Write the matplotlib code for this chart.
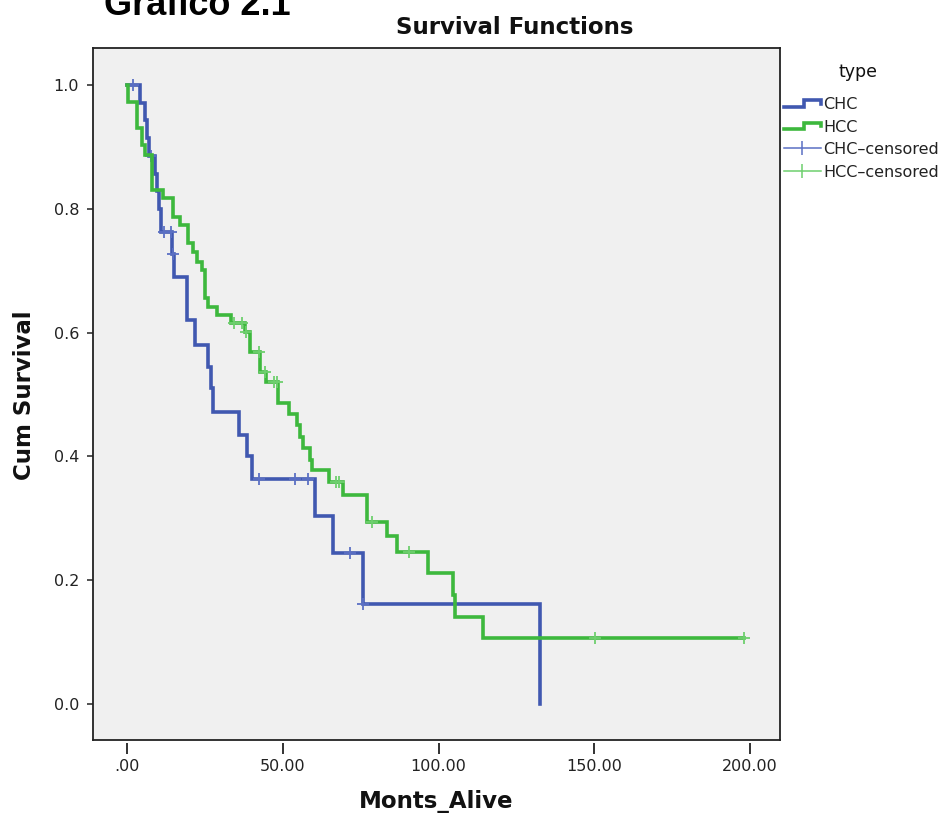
import numpy as np
import matplotlib
matplotlib.use('Agg')
import matplotlib.pyplot as plt
from matplotlib.lines import Line2D
from matplotlib.legend_handler import HandlerBase

# ---- data ----
chc_times = [0, 4.2, 5.8, 6.5, 7.0, 9.0, 9.7, 10.3, 10.8, 14.5, 15.2, 19.2, 21.8,
             26.0, 27.0, 27.7, 35.8, 38.6, 40.1, 60.4, 66.2, 75.8, 132.6]
chc_surv = [1.0, 0.971, 0.943, 0.914, 0.886, 0.857, 0.829, 0.800, 0.763, 0.727,
            0.690, 0.620, 0.580, 0.545, 0.510, 0.472, 0.435, 0.400, 0.363,
            0.303, 0.244, 0.161, 0.0]
chc_cens = [2.0, 7.8, 12.0, 14.0, 14.9, 42.5, 54.0, 58.0, 71.6, 75.8]

hcc_times = [0, 0.3, 3.2, 4.8, 5.8, 8.0, 11.6, 14.8, 17.0, 19.6, 21.2, 22.5, 24.1,
             25.1, 26.0, 28.9, 33.5, 37.9, 39.5, 42.7, 44.7, 48.5, 51.9, 54.6,
             55.6, 56.6, 58.8, 59.4, 65.0, 69.4, 77.0, 83.5, 86.7, 96.7, 104.7,
             105.4, 114.4]
hcc_surv = [1.0, 0.973, 0.931, 0.903, 0.887, 0.830, 0.817, 0.787, 0.774, 0.745,
            0.730, 0.714, 0.701, 0.656, 0.641, 0.628, 0.616, 0.601, 0.569, 0.537,
            0.520, 0.486, 0.468, 0.450, 0.431, 0.413, 0.394, 0.378, 0.359, 0.338,
            0.294, 0.271, 0.245, 0.211, 0.176, 0.141, 0.107]
hcc_cens = [34.5, 37.0, 38.3, 42.4, 44.3, 47.3, 48.2, 67.0, 68.0, 78.7, 90.6,
            150.3, 198.0]

x_ticks = [0, 50, 100, 150, 200]
x_ticklabels = ['.00', '50.00', '100.00', '150.00', '200.00']
y_ticks = [0.0, 0.2, 0.4, 0.6, 0.8, 1.0]
legend_labels = ['CHC', 'HCC', 'CHC\u2013censored', 'HCC\u2013censored']

BLUE = '#4058B0'
GREEN = '#3DB83D'
BLUE_C = '#5B70C4'
GREEN_C = '#6ECF6E'

plt.rcParams['font.family'] = ['DejaVu Sans']

W, H = 950, 813
fig = plt.figure(figsize=(W / 100, H / 100), dpi=100)
fig.patch.set_facecolor('white')

L, R, T, B = 93, 780, 48, 740
ax = fig.add_axes([L / W, 1 - B / H, (R - L) / W, (B - T) / H])
ax.set_facecolor('#F0F0F0')


def draw(times, surv, cens, color, ccolor):
    t = np.asarray(times, float)
    s = np.asarray(surv, float)
    end = max(t[-1], max(cens))
    xs = np.append(t, end)
    ys = np.append(s, s[-1])
    ax.step(xs, ys, where='post', color=color, lw=2.6, solid_joinstyle='miter')
    c = np.asarray(cens, float)
    idx = np.searchsorted(t, c, side='right') - 1
    ax.plot(c, s[idx], ls='none', marker='+', ms=9, mew=1.3, color=ccolor)


draw(chc_times, chc_surv, chc_cens, BLUE, BLUE_C)
draw(hcc_times, hcc_surv, hcc_cens, GREEN, GREEN_C)

# pixel mapping: x 0 -> 127px, 200 -> 750px ; y 0 -> 704px, 1 -> 85px
xpp = 200 / (750 - 127)
ypp = 1.0 / (704 - 85)
ax.set_xlim(0 - (127 - L) * xpp, 200 + (R - 750) * xpp)
ax.set_ylim(0 - (B - 704) * ypp, 1.0 + (85 - T) * ypp)

for sp in ax.spines.values():
    sp.set_linewidth(1.3)
    sp.set_color('#222222')

ax.set_yticks(y_ticks)
ax.set_yticklabels([f'{v:.1f}' for v in y_ticks])
ax.tick_params(axis='y', direction='out', length=4.5, width=1.1, pad=5.5,
               labelsize=11.5, colors='#222222')
ax.set_xticks([])

sec = ax.secondary_xaxis(-2.5 / (B - T))
sec.set_xticks(x_ticks)
sec.set_xticklabels(x_ticklabels)
sec.spines['bottom'].set_visible(False)
sec.tick_params(axis='x', direction='out', length=8, width=1.3, pad=4,
                labelsize=11.5, colors='#222222')

# texts
fig.text(104 / W, 1 - 15 / H, 'Grafico 2.1', family=['Liberation Sans', 'DejaVu Sans'],
         fontweight='bold', fontsize=26, ha='left', va='baseline')
fig.text(515 / W, 1 - 28 / H, 'Survival Functions', fontweight='bold',
         fontsize=16.5, ha='center', va='center', color='#111111')
fig.text(436 / W, 1 - 801 / H, 'Monts_Alive', fontweight='bold',
         fontsize=16.5, ha='center', va='center', color='#111111')
fig.text(25 / W, 1 - 395 / H, 'Cum Survival', fontweight='bold', rotation=90,
         fontsize=16.5, ha='center', va='center', color='#111111')
fig.text(858 / W, 1 - 72 / H, 'type', fontsize=12.5, ha='center', va='center',
         color='#111111')


class StepHandler(HandlerBase):
    def create_artists(self, legend, orig_handle, xdescent, ydescent, width,
                       height, fontsize, trans):
        x0, y0 = -xdescent, -ydescent
        xs = [x0, x0 + 0.55 * width, x0 + 0.55 * width, x0 + width, x0 + width]
        ys = [y0 + 0.2 * height, y0 + 0.2 * height, y0 + 0.8 * height,
              y0 + 0.8 * height, y0 + 0.45 * height]
        ln = Line2D(xs, ys, color=orig_handle.get_color(),
                    lw=orig_handle.get_linewidth(), solid_joinstyle='miter')
        ln.set_transform(trans)
        return [ln]


h_chc = Line2D([], [], color=BLUE, lw=2.6)
h_hcc = Line2D([], [], color=GREEN, lw=2.6)
h_chc_c = Line2D([0], [0], color=BLUE_C, lw=1.1, marker='|', ms=10, mew=1.1)
h_hcc_c = Line2D([0], [0], color=GREEN_C, lw=1.1, marker='|', ms=10, mew=1.1)

leg = fig.legend([h_chc, h_hcc, h_chc_c, h_hcc_c], legend_labels,
                 handler_map={h_chc: StepHandler(), h_hcc: StepHandler()},
                 fontsize=11.5,
                 loc='upper left', bbox_to_anchor=(784 / W, 1 - 97 / H),
                 frameon=False, borderpad=0, borderaxespad=0,
                 handlelength=2.3, handletextpad=0.15, labelspacing=0.47)
for t in leg.get_texts():
    t.set_color('#222222')

fig.savefig('out.png', dpi=100, facecolor='white')
